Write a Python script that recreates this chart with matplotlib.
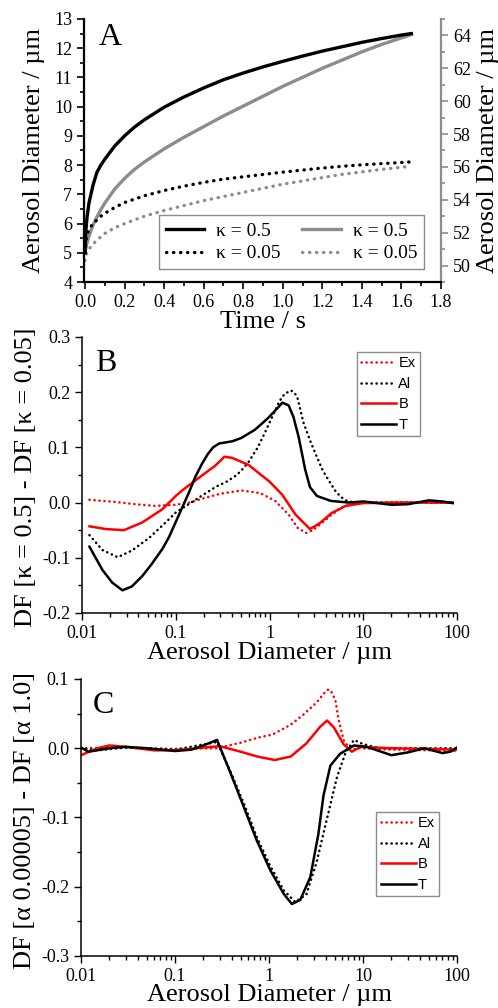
import matplotlib
matplotlib.use('Agg')
import matplotlib.pyplot as plt
from matplotlib.ticker import MultipleLocator, FuncFormatter, LogLocator, NullFormatter

plt.rcParams['font.family'] = ['Liberation Serif', 'DejaVu Serif']
plt.rcParams['axes.unicode_minus'] = False

# Panel A: aerosol diameter vs time
time_a = [0, 0.005, 0.01, 0.02, 0.04, 0.06, 0.08, 0.1, 0.15, 0.2, 0.25, 0.3, 0.4, 0.5, 0.6,
          0.7, 0.8, 0.9, 1.0, 1.1, 1.2, 1.3, 1.4, 1.5, 1.6, 1.65]
small_k05 = [5.0, 5.8, 6.2, 6.7, 7.3, 7.75, 8.0, 8.2, 8.65, 9.0, 9.3, 9.55, 9.98, 10.33, 10.64,
             10.92, 11.15, 11.36, 11.55, 11.73, 11.9, 12.05, 12.2, 12.33, 12.45, 12.5]
large_k05 = [50.8, 51.1, 51.35, 51.8, 52.45, 52.95, 53.4, 53.8, 54.65, 55.3, 55.85, 56.3, 57.1, 57.8, 58.45,
             59.1, 59.7, 60.3, 60.9, 61.45, 62.0, 62.5, 63.0, 63.45, 63.85, 64.05]
time_a2 = [0, 0.005, 0.01, 0.02, 0.04, 0.06, 0.08, 0.1, 0.15, 0.2, 0.3, 0.4, 0.5, 0.6,
           0.7, 0.8, 0.9, 1.0, 1.1, 1.2, 1.3, 1.4, 1.5, 1.6, 1.65]
small_k005 = [5.0, 5.45, 5.6, 5.8, 6.0, 6.12, 6.25, 6.35, 6.55, 6.72, 6.95, 7.13, 7.28, 7.41,
              7.52, 7.6, 7.68, 7.76, 7.83, 7.9, 7.96, 8.01, 8.05, 8.09, 8.11]
large_k005 = [50.3, 50.6, 50.8, 51.0, 51.3, 51.55, 51.75, 51.95, 52.3, 52.55, 53.0, 53.35, 53.65, 53.95,
              54.2, 54.45, 54.7, 54.95, 55.15, 55.35, 55.55, 55.7, 55.85, 55.98, 56.05]

# Panel B: DF[k=0.5] - DF[k=0.05]
b_ex_x = [0.012, 0.023, 0.037, 0.06, 0.1, 0.14, 0.2, 0.3, 0.5, 0.8, 1.15, 1.6, 2.0, 2.45, 2.9, 3.5,
          4.6, 6.0, 8.0, 10, 20, 50, 90]
b_ex_y = [0.005, 0.001, -0.003, -0.006, -0.004, 0.0, 0.008, 0.016, 0.022, 0.017, 0.003, -0.022, -0.046,
          -0.055, -0.05, -0.039, -0.022, -0.008, -0.002, 0.0, 0.0, 0.0, 0.0]
b_al_x = [0.012, 0.0165, 0.024, 0.034, 0.052, 0.085, 0.1, 0.14, 0.2, 0.27, 0.35, 0.44, 0.5, 0.6, 0.75,
          0.9, 1.1, 1.27, 1.45, 1.69, 1.85, 2.0, 2.3, 2.7, 3.1, 3.7, 4.5, 5.0, 5.7, 6.5, 8.0, 10, 20, 50, 90]
b_al_y = [-0.059, -0.086, -0.099, -0.087, -0.064, -0.03, -0.018, -0.002, 0.015, 0.029, 0.038, 0.049,
          0.058, 0.074, 0.1, 0.128, 0.16, 0.183, 0.197, 0.203, 0.199, 0.188, 0.145, 0.113, 0.088, 0.058,
          0.034, 0.022, 0.011, 0.004, 0.0, 0.0, 0.0, 0.0, 0.0]
b_b_x = [0.012, 0.018, 0.028, 0.044, 0.072, 0.1, 0.117, 0.19, 0.26, 0.3, 0.33, 0.4, 0.6, 1.0, 1.37,
         1.9, 2.7, 3.4, 4.6, 6.5, 10, 20, 50, 90]
b_b_y = [-0.043, -0.048, -0.05, -0.036, -0.012, 0.012, 0.022, 0.049, 0.066, 0.076, 0.083, 0.081, 0.068,
         0.038, 0.014, -0.022, -0.048, -0.038, -0.019, -0.006, -0.001, 0.0, 0.0, 0.0]
b_t_x = [0.012, 0.0165, 0.021, 0.027, 0.034, 0.044, 0.055, 0.072, 0.085, 0.1, 0.12, 0.138, 0.16,
         0.19, 0.22, 0.25, 0.29, 0.4, 0.5, 0.7, 0.95, 1.2, 1.37, 1.6, 1.8, 2.05, 2.4, 2.7, 3.2, 4.5,
         7.0, 10, 20, 30, 50, 70, 90]
b_t_y = [-0.08, -0.122, -0.145, -0.159, -0.152, -0.133, -0.112, -0.084, -0.062, -0.035, -0.005, 0.018,
         0.045, 0.07, 0.088, 0.1, 0.107, 0.111, 0.117, 0.132, 0.152, 0.17, 0.181, 0.176, 0.155, 0.118,
         0.06, 0.028, 0.012, 0.003, 0.0, 0.002, -0.004, -0.003, 0.004, 0.002, -0.001]

# Panel C: DF[a=0.00005] - DF[a=1.0]
c_ex_x = [0.01, 0.03, 0.1, 0.28, 0.5, 0.75, 1.1, 1.7, 2.3, 3.2, 4.0, 4.3, 4.7, 5.1, 5.5, 6.2, 7.0,
          7.6, 9.0, 20, 50, 100]
c_ex_y = [0.0, 0.001, -0.001, 0.0, 0.008, 0.015, 0.02, 0.034, 0.048, 0.066, 0.082, 0.085, 0.08, 0.068,
          0.041, 0.012, 0.002, -0.002, 0.0, -0.002, -0.003, -0.004]
c_al_x = [0.01, 0.015, 0.03, 0.1, 0.28, 0.39, 0.54, 0.74, 1.03, 1.43, 1.9, 2.5, 3.2, 4.1, 5.3, 6.5,
          8.0, 10, 15, 30, 100]
c_al_y = [0.0, -0.003, 0.001, -0.002, 0.009, -0.034, -0.08, -0.128, -0.17, -0.205, -0.222, -0.211, -0.165,
          -0.104, -0.041, -0.007, 0.012, 0.006, 0.0, 0.0, 0.0]
c_b_x = [0.01, 0.015, 0.02, 0.03, 0.06, 0.1, 0.2, 0.3, 0.5, 0.75, 1.15, 1.7, 2.5, 3.5, 4.15, 4.9,
         6.2, 7.6, 9.4, 20, 50, 100]
c_b_y = [-0.01, 0.0, 0.004, 0.002, -0.003, -0.003, 0.001, 0.003, -0.005, -0.012, -0.017, -0.012, 0.007,
         0.031, 0.04, 0.03, 0.006, -0.005, 0.002, 0.0, -0.001, -0.002]
c_t_x = [0.01, 0.012, 0.02, 0.03, 0.05, 0.1, 0.15, 0.2, 0.28, 0.39, 0.54, 0.74, 1.03, 1.43, 1.75,
         2.15, 2.75, 3.35, 3.8, 4.5, 5.7, 8.0, 11, 20, 30, 45, 70, 85, 100]
c_t_y = [0.001, -0.005, 0.0, 0.002, 0.0, -0.004, -0.002, 0.004, 0.012, -0.036, -0.085, -0.133, -0.176,
         -0.21, -0.225, -0.219, -0.186, -0.124, -0.068, -0.025, -0.008, 0.004, 0.002, -0.01, -0.006,
         0.0, -0.007, -0.005, 0.001]

diam_labels = ['0.01', '0.1', '1', '10', '100']

RED = '#ff0000'
GREY = '#8c8c8c'
TICK_FS = 13
LABEL_FS = 19

fig = plt.figure(figsize=(4.98, 10.08), dpi=100)

# ---------------- Panel A ----------------
dotA = (0, (0.1, 2.0))
axA = fig.add_axes([0.1687, 0.7202, 0.7169, 0.261])
axA2 = axA.twinx()
l1, = axA.plot(time_a, small_k05, color='black', lw=2.4, label='κ = 0.5')
l2, = axA.plot(time_a2, small_k005, color='black', lw=2.4, ls=dotA, label='κ = 0.05')
l3, = axA2.plot(time_a, large_k05, color=GREY, lw=2.4, label='κ = 0.5')
l4, = axA2.plot(time_a2, large_k005, color=GREY, lw=2.4, ls=dotA, label='κ = 0.05')
for ln in (l2, l4):
    ln.set_dash_capstyle('round')

axA.set_xlim(-0.005, 1.8)
axA.set_ylim(4, 13)
axA2.set_ylim(49, 65)
axA.xaxis.set_major_locator(MultipleLocator(0.2))
axA.xaxis.set_minor_locator(MultipleLocator(0.1))
axA.xaxis.set_major_formatter(FuncFormatter(lambda v, p: '%.1f' % v))
axA.yaxis.set_major_locator(MultipleLocator(1))
axA.yaxis.set_minor_locator(MultipleLocator(0.5))
axA2.yaxis.set_major_locator(MultipleLocator(2))
axA2.yaxis.set_minor_locator(MultipleLocator(1))

axA.spines['top'].set_visible(False)
axA.spines['right'].set_visible(False)
axA2.spines['top'].set_visible(False)
axA2.spines['left'].set_visible(False)
axA2.spines['bottom'].set_visible(False)
for s in ('left', 'bottom'):
    axA.spines[s].set_linewidth(1.6)
axA2.spines['right'].set_linewidth(1.6)
axA2.spines['right'].set_color(GREY)
axA.tick_params(which='both', direction='out', width=1.2, labelsize=TICK_FS)
axA.tick_params(which='major', length=5)
axA.tick_params(which='minor', length=3)
axA2.tick_params(which='both', direction='out', width=1.2, color=GREY, labelsize=TICK_FS)
axA2.tick_params(which='major', length=5)
axA2.tick_params(which='minor', length=3)

axA.set_xlabel('Time / s', fontsize=LABEL_FS)
axA.set_ylabel('Aerosol Diameter / µm', fontsize=LABEL_FS)
axA2.set_ylabel('Aerosol Diameter / µm', fontsize=LABEL_FS)
axA.xaxis.set_label_coords(0.5, -0.11)
axA.yaxis.set_label_coords(-0.11, 0.5)
axA2.yaxis.set_label_coords(1.10, 0.5)
axA.text(0.04, 0.93, 'A', transform=axA.transAxes, fontsize=23, va='center', ha='left')

legA = axA.legend([l1, l2, l3, l4], [l1.get_label(), l2.get_label(), l3.get_label(), l4.get_label()],
                  ncol=2, loc='lower right', bbox_to_anchor=(0.952, 0.049), borderaxespad=0,
                  fontsize=14, frameon=True, fancybox=False, edgecolor=GREY, framealpha=1,
                  handlelength=2.0, handletextpad=0.6, columnspacing=1.1, borderpad=0.35,
                  labelspacing=0.25)
legA.get_frame().set_linewidth(1.0)
axA.set_zorder(axA2.get_zorder() + 1)
axA.patch.set_visible(False)


def style_df_axes(ax, ylo, yhi):
    ax.set_xscale('log')
    ax.set_xlim(0.01, 100)
    ax.set_ylim(ylo, yhi)
    ax.set_xticks([0.01, 0.1, 1, 10, 100])
    ax.set_xticklabels(diam_labels)
    ax.xaxis.set_minor_locator(LogLocator(base=10, subs=range(2, 10), numticks=20))
    ax.xaxis.set_minor_formatter(NullFormatter())
    ax.yaxis.set_major_locator(MultipleLocator(0.1))
    ax.yaxis.set_minor_locator(MultipleLocator(0.05))
    ax.yaxis.set_major_formatter(FuncFormatter(lambda v, p: '%.1f' % (0.0 if abs(v) < 1e-9 else v)))
    ax.spines['top'].set_visible(False)
    ax.spines['right'].set_visible(False)
    for s in ('left', 'bottom'):
        ax.spines[s].set_linewidth(1.1)
    ax.tick_params(which='both', direction='out', width=1.0, labelsize=TICK_FS)
    ax.tick_params(which='major', length=5)
    ax.tick_params(which='minor', length=3)
    ax.set_xlabel('Aerosol Diameter / µm', fontsize=LABEL_FS)


def df_legend(ax, anchor, lines):
    leg = ax.legend(lines, ['Ex', 'Al', 'B', 'T'], loc='upper left', bbox_to_anchor=anchor,
                    borderaxespad=0, frameon=True, fancybox=False, edgecolor=GREY, framealpha=1,
                    prop={'family': 'Liberation Sans', 'size': 10.5}, handlelength=2.4,
                    handletextpad=0.15, borderpad=0.3, labelspacing=0.45)
    leg.get_frame().set_linewidth(1.0)


dot = (0, (0.1, 1.9))

# ---------------- Panel B ----------------
axB = fig.add_axes([0.1647, 0.3919, 0.753, 0.2738])
b1, = axB.plot(b_ex_x, b_ex_y, color=RED, lw=1.8, ls=dot, dash_capstyle='round')
b2, = axB.plot(b_al_x, b_al_y, color='black', lw=1.8, ls=dot, dash_capstyle='round')
b3, = axB.plot(b_b_x, b_b_y, color=RED, lw=1.8)
b4, = axB.plot(b_t_x, b_t_y, color='black', lw=1.8)
style_df_axes(axB, -0.2, 0.3)
axB.set_ylabel('DF [κ = 0.5] - DF [κ = 0.05]', fontsize=LABEL_FS)
axB.xaxis.set_label_coords(0.5, -0.105)
axB.yaxis.set_label_coords(-0.12, 0.49)
axB.text(0.035, 0.905, 'B', transform=axB.transAxes, fontsize=23, va='center', ha='left')
df_legend(axB, (0.733, 0.946), [b1, b2, b3, b4])

# ---------------- Panel C ----------------
axC = fig.add_axes([0.1627, 0.0516, 0.755, 0.2748])
c1, = axC.plot(c_ex_x, c_ex_y, color=RED, lw=1.8, ls=dot, dash_capstyle='round')
c2, = axC.plot(c_al_x, c_al_y, color='black', lw=1.8, ls=dot, dash_capstyle='round')
c3, = axC.plot(c_b_x, c_b_y, color=RED, lw=1.8)
c4, = axC.plot(c_t_x, c_t_y, color='black', lw=1.8)
style_df_axes(axC, -0.3, 0.1)
axC.set_ylabel('DF [α 0.00005] - DF [α 1.0]', fontsize=LABEL_FS)
axC.xaxis.set_label_coords(0.5, -0.1)
axC.yaxis.set_label_coords(-0.12, 0.49)
axC.text(0.03, 0.905, 'C', transform=axC.transAxes, fontsize=23, va='center', ha='left')
df_legend(axC, (0.785, 0.52), [c1, c2, c3, c4])

fig.savefig('out.png', dpi=100)
